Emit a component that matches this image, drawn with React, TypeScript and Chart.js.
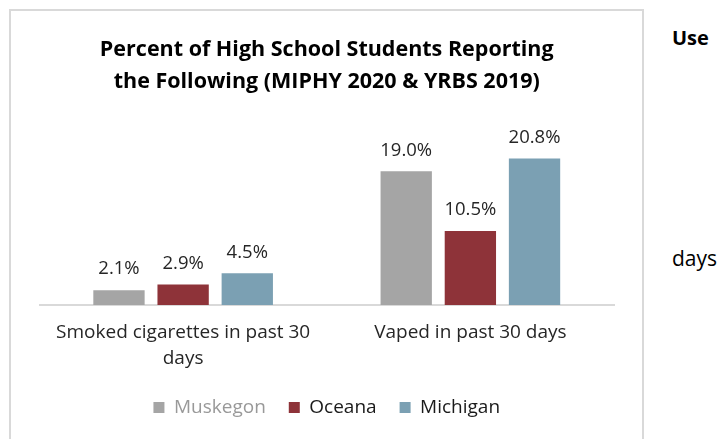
import React, { useEffect, useRef } from "react";
import { Chart, registerables } from "chart.js";

Chart.register(...registerables);

const categories: (string | string[])[] = [
  ["Smoked cigarettes in past 30", "days"],
  "Vaped in past 30 days",
];
const muskegon = [2.1, 19.0];
const oceana = [2.9, 10.5];
const michigan = [4.5, 20.8];
const seriesNames = ["Muskegon", "Oceana", "Michigan"];
const seriesColors = ["#a5a5a5", "#8e3339", "#7ba0b3"];
const titleLines = [
  "Percent of High School Students Reporting",
  "the Following (MIPHY 2020 & YRBS 2019)",
];
const FONT = '"Open Sans", sans-serif';

const valueLabels = {
  id: "valueLabels",
  afterDatasetsDraw(chart: any) {
    const ctx = chart.ctx;
    ctx.save();
    ctx.font = `18.5px ${FONT}`;
    ctx.fillStyle = "#262626";
    ctx.textAlign = "center";
    ctx.textBaseline = "middle";
    chart.data.datasets.forEach((ds: any, i: number) => {
      const meta = chart.getDatasetMeta(i);
      meta.data.forEach((bar: any, j: number) => {
        ctx.fillText(ds.data[j].toFixed(1) + "%", bar.x, bar.y - 21);
      });
    });
    ctx.restore();
  },
};

export default function App() {
  const ref = useRef<HTMLCanvasElement>(null);
  useEffect(() => {
    if (!ref.current) return;
    const chart = new Chart(ref.current, {
      type: "bar",
      data: {
        labels: categories,
        datasets: [muskegon, oceana, michigan].map((d, i) => ({
          label: seriesNames[i],
          data: d,
          backgroundColor: seriesColors[i],
          categoryPercentage: 0.67,
          barPercentage: 0.8,
        })),
      },
      options: {
        responsive: false,
        animation: false,
        devicePixelRatio: 1,
        layout: { padding: { left: 39.5, right: 114, top: 0, bottom: 12 } },
        scales: {
          x: {
            grid: { display: false },
            border: { display: true, color: "#d9d9d9", width: 2 },
            ticks: {
              color: "#262626",
              padding: 7,
              font: { family: FONT, size: 19, lineHeight: 26 / 19 },
              maxRotation: 0,
              autoSkip: false,
            },
            afterFit: (scale: any) => {
              scale.height -= 4;
            },
          },
          y: { display: false, min: 0, max: 25 },
        },
        plugins: {
          title: {
            display: true,
            text: titleLines,
            color: "#000",
            font: { family: FONT, size: 21.5, weight: "bold", lineHeight: 32 / 21.5 },
            padding: { top: 34, bottom: 31 },
          },
          legend: {
            position: "bottom",
            labels: {
              boxWidth: 11,
              boxHeight: 11,
              padding: 23,
              color: "#262626",
              font: { family: FONT, size: 19 },
              generateLabels: (c: any) =>
                c.data.datasets.map((ds: any, i: number) => ({
                  text: ds.label,
                  fillStyle: ds.backgroundColor,
                  strokeStyle: ds.backgroundColor,
                  lineWidth: 0,
                  hidden: false,
                  datasetIndex: i,
                  fontColor: i === 0 ? "#999999" : "#1a1a1a",
                })),
            },
          },
          tooltip: { enabled: false },
        },
      },
      plugins: [valueLabels],
    });
    return () => chart.destroy();
  }, []);

  return (
    <div
      style={{
        position: "fixed",
        left: 0,
        top: 0,
        width: 728,
        height: 439,
        background: "#fff",
        overflow: "hidden",
        fontFamily: FONT,
      }}
    >
      <div
        style={{
          position: "absolute",
          left: 9,
          top: 9,
          width: 631,
          height: 460,
          border: "2px solid #d9d9d9",
        }}
      />
      <div
        style={{
          position: "absolute",
          left: 672,
          top: 26,
          lineHeight: "24px",
          fontSize: 20,
          fontWeight: "bold",
          color: "#000",
        }}
      >
        Use
      </div>
      <div
        style={{
          position: "absolute",
          left: 672,
          top: 246,
          lineHeight: "24px",
          fontSize: 21,
          color: "#000",
        }}
      >
        days
      </div>
      <canvas
        ref={ref}
        width={728}
        height={439}
        style={{ position: "absolute", left: 0, top: 0 }}
      />
    </div>
  );
}
